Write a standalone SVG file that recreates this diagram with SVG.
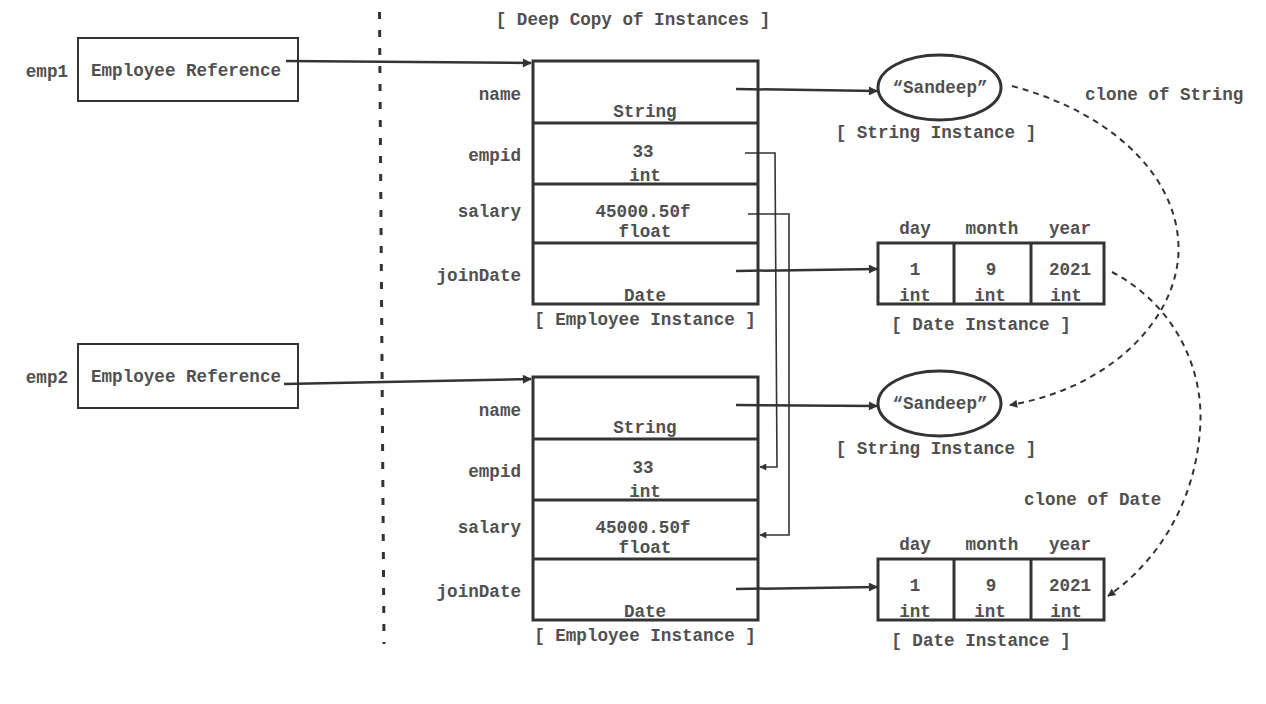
<svg xmlns="http://www.w3.org/2000/svg" width="1266" height="704" viewBox="0 0 1266 704">
<defs>
<marker id="ah" viewBox="0 0 10 10" refX="9" refY="5" markerWidth="11" markerHeight="9" markerUnits="userSpaceOnUse" orient="auto"><path d="M0,0 L10,5 L0,10 z" fill="#333"/></marker>
<marker id="ahs" viewBox="0 0 10 10" refX="9" refY="5" markerWidth="8" markerHeight="7" markerUnits="userSpaceOnUse" orient="auto"><path d="M0,0 L10,5 L0,10 z" fill="#333"/></marker>
<marker id="ahd" viewBox="0 0 10 10" refX="9" refY="5" markerWidth="9" markerHeight="8" markerUnits="userSpaceOnUse" orient="auto"><path d="M0,0 L10,5 L0,10 z" fill="#333"/></marker>
</defs>
<style>
text{font-family:"Liberation Mono","Courier New",monospace;font-weight:bold;font-size:17.6px;fill:#505050}
.c{text-anchor:middle}
.r{text-anchor:end}
.box{fill:#fff;stroke:#333;stroke-width:3}
.ref{fill:#fff;stroke:#333;stroke-width:2}
.ln{fill:none;stroke:#333;stroke-width:2.5}
.thin{fill:none;stroke:#333;stroke-width:1.6}
.dash{fill:none;stroke:#333;stroke-width:2;stroke-dasharray:6 5}
</style>

<line x1="379.5" y1="12" x2="384" y2="644" stroke="#333" stroke-width="3" stroke-dasharray="7 11"/>
<text class="c" x="633" y="25">[ Deep Copy of Instances ]</text>

<g id="emp1">
<text class="r" x="68" y="77">emp1</text>
<rect class="ref" x="78" y="38" width="220" height="63"/>
<text x="91" y="76">Employee Reference</text>
</g>

<g id="emp2">
<text class="r" x="68" y="383">emp2</text>
<rect class="ref" x="78" y="344" width="220" height="64"/>
<text x="91" y="382">Employee Reference</text>
</g>

<g id="employee1">
<rect class="box" x="533" y="61" width="225" height="243"/>
<line class="box" x1="533" y1="123" x2="758" y2="123"/>
<line class="box" x1="533" y1="184" x2="758" y2="184"/>
<line class="box" x1="533" y1="243" x2="758" y2="243"/>
<text class="r" x="521" y="100">name</text>
<text class="r" x="521" y="161">empid</text>
<text class="r" x="521" y="217">salary</text>
<text class="r" x="521" y="281">joinDate</text>
<text class="c" x="645" y="117">String</text>
<text class="c" x="643" y="157">33</text>
<text class="c" x="645" y="181">int</text>
<text class="c" x="643" y="217">45000.50f</text>
<text class="c" x="645" y="237">float</text>
<text class="c" x="645" y="301">Date</text>
<text class="c" x="645" y="325">[ Employee Instance ]</text>
</g>

<g id="employee2">
<rect class="box" x="533" y="377" width="225" height="243"/>
<line class="box" x1="533" y1="439" x2="758" y2="439"/>
<line class="box" x1="533" y1="500" x2="758" y2="500"/>
<line class="box" x1="533" y1="559" x2="758" y2="559"/>
<text class="r" x="521" y="416">name</text>
<text class="r" x="521" y="477">empid</text>
<text class="r" x="521" y="533">salary</text>
<text class="r" x="521" y="597">joinDate</text>
<text class="c" x="645" y="433">String</text>
<text class="c" x="643" y="473">33</text>
<text class="c" x="645" y="497">int</text>
<text class="c" x="643" y="533">45000.50f</text>
<text class="c" x="645" y="553">float</text>
<text class="c" x="645" y="617">Date</text>
<text class="c" x="645" y="641">[ Employee Instance ]</text>
</g>

<g id="string1">
<ellipse class="box" cx="939.5" cy="87.5" rx="61.5" ry="32.5"/>
<text class="c" x="940" y="93">“Sandeep”</text>
<text class="c" x="936" y="138">[ String Instance ]</text>
</g>

<g id="string2">
<ellipse class="box" cx="939.5" cy="403.5" rx="61.5" ry="32.5"/>
<text class="c" x="940" y="409">“Sandeep”</text>
<text class="c" x="936" y="454">[ String Instance ]</text>
</g>

<g id="date1">
<text class="c" x="915" y="234">day</text>
<text class="c" x="992" y="234">month</text>
<text class="c" x="1070" y="234">year</text>
<rect class="box" x="878" y="243" width="226" height="61"/>
<line class="box" x1="954" y1="243" x2="954" y2="304"/>
<line class="box" x1="1031" y1="243" x2="1031" y2="304"/>
<text class="c" x="915" y="275">1</text>
<text class="c" x="991" y="275">9</text>
<text class="c" x="1070" y="275">2021</text>
<text class="c" x="915" y="301">int</text>
<text class="c" x="990" y="301">int</text>
<text class="c" x="1066" y="301">int</text>
<text class="c" x="981" y="330">[ Date Instance ]</text>
</g>

<g id="date2">
<text class="c" x="915" y="550">day</text>
<text class="c" x="992" y="550">month</text>
<text class="c" x="1070" y="550">year</text>
<rect class="box" x="878" y="559" width="226" height="61"/>
<line class="box" x1="954" y1="559" x2="954" y2="620"/>
<line class="box" x1="1031" y1="559" x2="1031" y2="620"/>
<text class="c" x="915" y="591">1</text>
<text class="c" x="991" y="591">9</text>
<text class="c" x="1070" y="591">2021</text>
<text class="c" x="915" y="617">int</text>
<text class="c" x="990" y="617">int</text>
<text class="c" x="1066" y="617">int</text>
<text class="c" x="981" y="646">[ Date Instance ]</text>
</g>

<g id="labels">
<text x="1085" y="100">clone of String</text>
<text x="1024" y="505">clone of Date</text>
</g>

<g id="connectors">
<path class="ln" d="M286,61 L531,63" marker-end="url(#ah)"/>
<path class="ln" d="M284,384 L531,379" marker-end="url(#ah)"/>
<path class="ln" d="M736,89 L877,91" marker-end="url(#ah)"/>
<path class="ln" d="M736,271 L877,269" marker-end="url(#ah)"/>
<path class="ln" d="M736,405 L877,406" marker-end="url(#ah)"/>
<path class="ln" d="M736,589 L877,587" marker-end="url(#ah)"/>
<path class="thin" d="M745,153 L775,153 L777,467 L760,467" marker-end="url(#ahs)"/>
<path class="thin" d="M748,214 L789,214 L789,535 L760,535" marker-end="url(#ahs)"/>
<path class="dash" d="M1012,86 C1120,115 1185,185 1178,260 C1170,330 1100,390 1010,405" marker-end="url(#ahd)"/>
<path class="dash" d="M1112,272 C1175,305 1205,370 1200,430 C1195,500 1160,560 1108,596" marker-end="url(#ahd)"/>
</g>
</svg>
